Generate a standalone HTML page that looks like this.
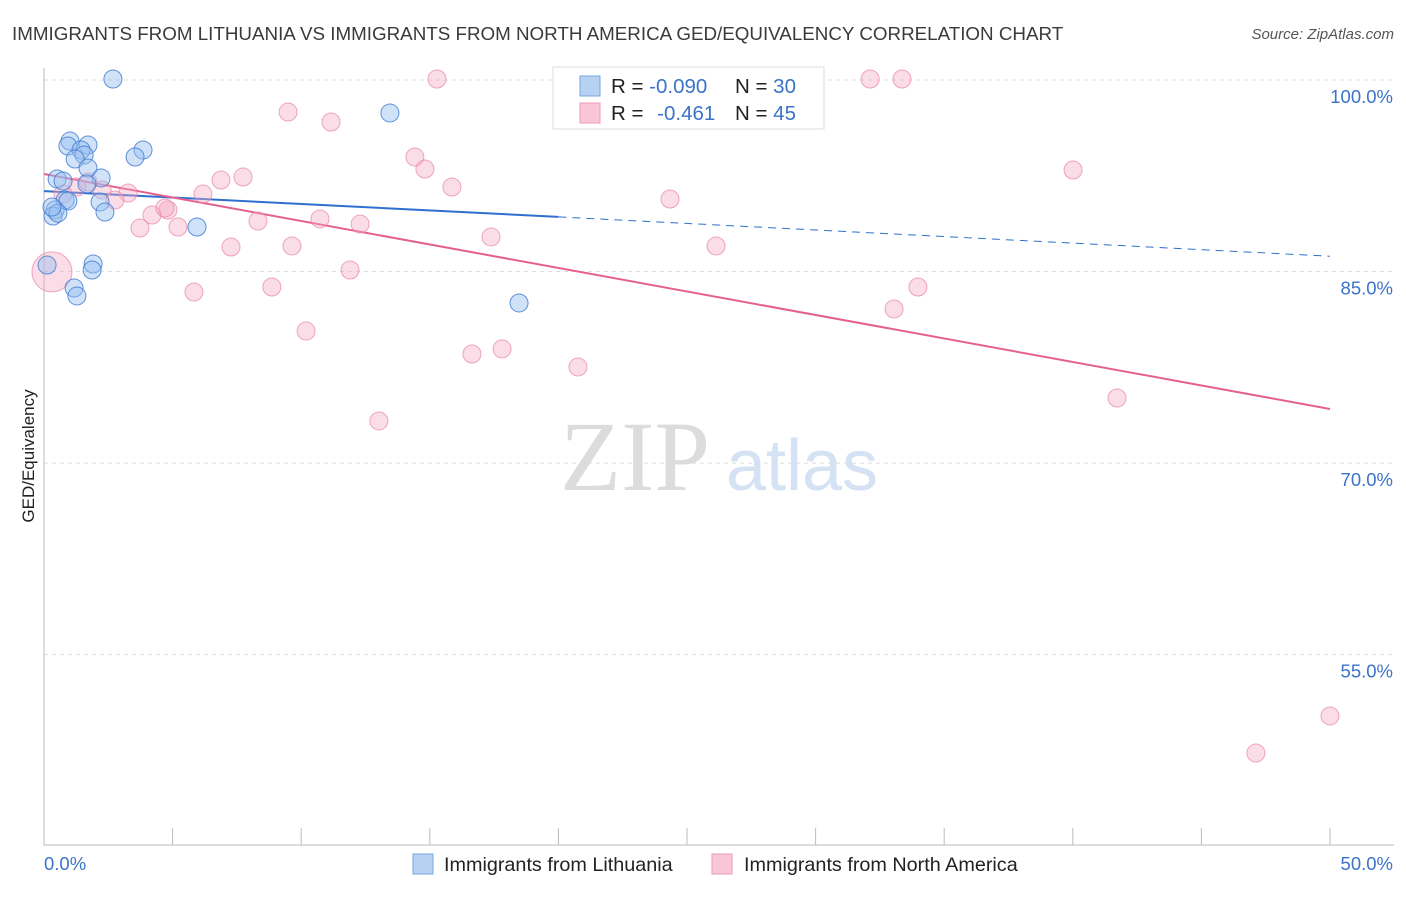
<!DOCTYPE html>
<html><head><meta charset="utf-8"><style>
body{margin:0;background:#fff;font-family:"Liberation Sans",sans-serif;}
svg text{font-family:"Liberation Sans",sans-serif;}
</style></head><body>
<svg id="chart" width="1406" height="892" xmlns="http://www.w3.org/2000/svg">
<text x="12" y="40" font-size="18.8" fill="#3a3a3a">IMMIGRANTS FROM LITHUANIA VS IMMIGRANTS FROM NORTH AMERICA GED/EQUIVALENCY CORRELATION CHART</text>
<text x="1394" y="39" font-size="15" fill="#555" text-anchor="end" font-style="italic">Source: ZipAtlas.com</text>
<g>
<text x="635" y="490" font-size="100" fill="#dcdcdc" style="font-family:'Liberation Serif',serif" text-anchor="middle">ZIP</text>
<text x="802" y="490" font-size="72" fill="#d4e2f4" text-anchor="middle">atlas</text>
</g>
<text transform="translate(34,456) rotate(-90)" font-size="17" fill="#222" text-anchor="middle">GED/Equivalency</text>
<g id="grid"></g><g id="axes"></g><g id="trend"></g><g id="pts"></g>
<g>
<rect x="553" y="67" width="271" height="62" fill="#fff" stroke="#ddd"/>
<rect x="580" y="76" width="20" height="20" fill="#b7d1f3" stroke="#7aa5e3"/>
<rect x="580" y="103" width="20" height="20" fill="#f8c6d5" stroke="#ef9ab5"/>
<text x="611" y="93" font-size="20.5" fill="#222">R = <tspan fill="#3b73c9">-0.090</tspan></text>
<text x="735" y="93" font-size="20.5" fill="#222">N = <tspan fill="#3b73c9">30</tspan></text>
<text x="611" y="120" font-size="20.5" fill="#222">R = <tspan fill="#3b73c9" dx="8">-0.461</tspan></text>
<text x="735" y="120" font-size="20.5" fill="#222">N = <tspan fill="#3b73c9">45</tspan></text>
</g>
<g>
<rect x="413" y="854" width="20" height="20" fill="#b7d1f3" stroke="#7aa5e3"/>
<text x="444" y="871" font-size="19.8" fill="#222">Immigrants from Lithuania</text>
<rect x="712" y="854" width="20" height="20" fill="#f8c6d5" stroke="#ef9ab5"/>
<text x="744" y="871" font-size="19.8" fill="#222">Immigrants from North America</text>
</g>
</svg>
<script>
const blueX=[2.68,1.01,0.93,1.71,1.44,1.56,1.21,3.85,3.54,1.71,0.51,0.74,2.22,1.67,0.82,0.93,0.43,0.35,0.54,2.18,2.37,5.95,13.45,1.91,1.87,1.17,1.28,0.12,18.47,0.31];
const blueY=[100.08,95.22,94.83,94.91,94.52,94.13,93.81,94.52,93.97,93.11,92.25,92.09,92.33,91.86,90.6,90.52,89.82,89.35,89.58,90.45,89.66,88.49,97.42,85.59,85.12,83.71,83.09,85.51,82.54,90.05];
const pinkX=[15.28,32.12,33.36,9.49,11.16,14.42,14.81,40.01,15.86,7.74,6.88,6.18,1.28,2.26,3.27,2.76,0.74,4.82,4.2,3.73,5.21,8.32,10.73,12.29,24.34,17.38,7.27,9.64,26.13,11.9,5.83,8.86,33.98,33.05,10.19,16.64,17.81,20.76,13.02,41.72,50.0,47.12,0.31,1.71,4.7,28.6];
const pinkY=[100.08,100.08,100.08,97.49,96.71,93.97,93.03,92.95,91.62,92.4,92.17,91.07,91.62,91.39,91.15,90.6,91.07,89.82,89.43,88.41,88.49,88.96,89.12,88.72,90.68,87.71,86.92,87.0,87.0,85.12,83.4,83.79,83.79,82.07,80.34,78.54,78.94,77.53,73.3,75.1,50.2,47.3,84.97,92.01,89.98,100.2];
const pinkR=[9,9,9,9,9,9,9,9,9,9,9,9,9,9,9,9,9,9,9,9,9,9,9,9,9,9,9,9,9,9,9,9,9,9,9,9,9,9,9,9,9,9,20,9,9,9];
const yTicks=[100,85,70,55];
const yTickLabels=["100.0%","85.0%","70.0%","55.0%"];
const blueTrendX=[0,20,50];const blueTrendY=[91.3,89.28,86.2];
const pinkTrendX=[0,50];const pinkTrendY=[92.64,74.24];
const NS="http://www.w3.org/2000/svg";
const xs=v=>44+v*25.72, ys=v=>80+(100-v)*12.77;
function mk(p,t,a){const e=document.createElementNS(NS,t);for(const k in a)e.setAttribute(k,a[k]);p.appendChild(e);return e;}
const grid=document.getElementById('grid'),axes=document.getElementById('axes'),tr=document.getElementById('trend'),pts=document.getElementById('pts');
yTicks.forEach((t,i)=>{
 const l=mk(grid,'line',{x1:44,x2:1394,y1:ys(t),y2:ys(t),stroke:'#ddd','stroke-dasharray':'4,4'});
 
 
 const tx=mk(grid,'text',{x:1393,y:ys(t)+23,'font-size':18.5,fill:'#3b73c9','text-anchor':'end'});
 tx.textContent=yTickLabels[i];
 
 
});
mk(axes,'line',{x1:44,x2:44,y1:68,y2:845,stroke:'#bbb'});
mk(axes,'line',{x1:44,x2:1394,y1:845,y2:845,stroke:'#bbb'});
for(let v=0;v<=50;v+=5){const t=mk(axes,'line',{x1:xs(v),x2:xs(v),y1:828,y2:845,stroke:'#bbb'});}
const x0=mk(axes,'text',{x:44,y:870,'font-size':18.5,fill:'#3b73c9'});x0.textContent='0.0%';


const x1=mk(axes,'text',{x:1393,y:870,'font-size':18.5,fill:'#3b73c9','text-anchor':'end'});x1.textContent='50.0%';


pinkX.forEach((x,i)=>{const c=mk(pts,'circle',{cx:xs(x),cy:ys(pinkY[i]),r:pinkR[i],fill:'rgba(246,170,196,0.4)',stroke:'rgba(232,130,165,0.7)','stroke-width':1});
 
 });
blueX.forEach((x,i)=>{const c=mk(pts,'circle',{cx:xs(x),cy:ys(blueY[i]),r:9,fill:'rgba(150,190,240,0.45)',stroke:'rgba(60,120,210,0.8)','stroke-width':1});
 
 });
const bl=mk(tr,'line',{x1:xs(blueTrendX[0]),y1:ys(blueTrendY[0]),x2:xs(blueTrendX[1]),y2:ys(blueTrendY[1]),stroke:'#2f6fd0','stroke-width':2});


const bd=mk(tr,'line',{x1:xs(blueTrendX[1]),y1:ys(blueTrendY[1]),x2:xs(blueTrendX[2]),y2:ys(blueTrendY[2]),stroke:'#2f6fd0','stroke-width':1,'stroke-dasharray':'8,6'});


const pl=mk(tr,'line',{x1:xs(pinkTrendX[0]),y1:ys(pinkTrendY[0]),x2:xs(pinkTrendX[1]),y2:ys(pinkTrendY[1]),stroke:'#e4608f','stroke-width':2});


</script>
</body></html>
